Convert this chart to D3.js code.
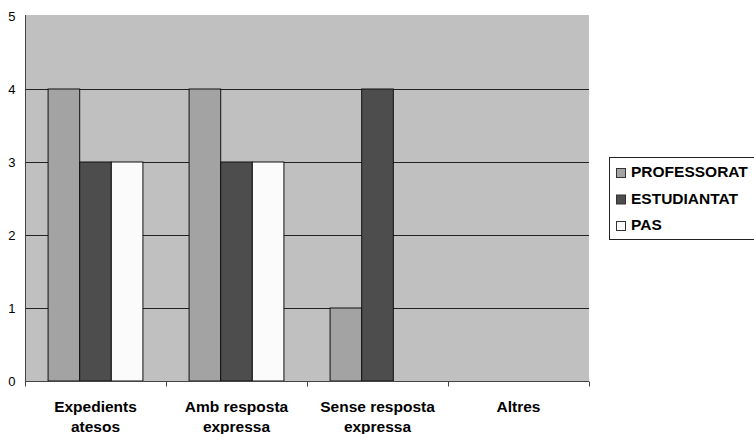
<!DOCTYPE html>
<html><head><meta charset="utf-8">
<script src="https://cdn.jsdelivr.net/npm/d3@7/dist/d3.min.js"></script>
<style>body{margin:0;background:#fff}svg{display:block}</style>
</head><body><svg id="c" width="754" height="434"></svg>
<script>
const categories = ["Expedients\natesos", "Amb resposta\nexpressa", "Sense resposta\nexpressa", "Altres"];
const seriesNames = ["PROFESSORAT", "ESTUDIANTAT", "PAS"];
const professorat = [4, 4, 1, 0];
const estudiantat = [3, 3, 4, 0];
const pas = [3, 3, 0, 0];
const yTicks = [0, 1, 2, 3, 4, 5];
const colors = ["#a3a3a3", "#4d4d4d", "#fbfbfb"];

const series = [professorat, estudiantat, pas];
const svg = d3.select("#c");
const L = 25, R = 589, T = 16, B = 381;
const FONT = "Liberation Sans, Arial, sans-serif";

const x = d3.scaleBand().domain(categories).range([L, R]).paddingInner(0).paddingOuter(0);
const xs = d3.scaleBand().domain(seriesNames).range([0, x.bandwidth()]).paddingInner(0).paddingOuter(0.73);
const y = d3.scaleLinear().domain([0, 5]).range([B, T]);

svg.append("rect").attr("x", L).attr("y", T - 1).attr("width", R - L).attr("height", B - T + 1).attr("fill", "#c0c0c0");

// gridlines
svg.append("g").selectAll("line").data(yTicks.filter(d => d > 0 && d < 5)).join("line")
  .attr("x1", L).attr("x2", R).attr("y1", d => Math.round(y(d)) + 0.5).attr("y2", d => Math.round(y(d)) + 0.5)
  .attr("stroke", "#222").attr("stroke-width", 1);

// bars
const g = svg.append("g");
categories.forEach((c, i) => {
  seriesNames.forEach((s, j) => {
    const v = series[j][i];
    if (v <= 0) return;
    g.append("rect")
      .attr("x", x(c) + xs(s)).attr("width", xs.bandwidth())
      .attr("y", y(v)).attr("height", y(0) - y(v))
      .attr("fill", colors[j]).attr("stroke", "#111").attr("stroke-width", 1);
  });
});

// y axis
const yAxis = d3.axisLeft(y).tickValues(yTicks).tickSize(0).tickPadding(10).tickFormat(d3.format("d"));
const ya = svg.append("g").attr("transform", `translate(${L + 0.5},0)`).call(yAxis);
ya.select(".domain").attr("stroke", "#444").attr("d", `M0,${T - 1}V${B}`);
ya.selectAll("text").attr("font-family", FONT).attr("font-size", 13).attr("fill", "#000");

// x axis
const xa = svg.append("g").attr("transform", `translate(0,${B + 0.5})`);
xa.append("line").attr("x1", L).attr("x2", R).attr("stroke", "#444");
const tickPos = categories.map(c => x(c)).concat([R]);
xa.selectAll("line.t").data(tickPos).join("line").attr("class", "t")
  .attr("x1", d => Math.round(d) + 0.5).attr("x2", d => Math.round(d) + 0.5).attr("y1", 0).attr("y2", 5).attr("stroke", "#444");
categories.forEach(c => {
  const t = xa.append("text").attr("text-anchor", "middle")
    .attr("font-family", FONT).attr("font-size", 15.5).attr("font-weight", "bold")
    .attr("fill", "#000");
  c.split("\n").forEach((ln, k) => {
    t.append("tspan").attr("x", x(c) + x.bandwidth() / 2).attr("y", 30 + k * 20).text(ln);
  });
});

// legend
const lg = svg.append("g");
lg.append("rect").attr("x", 609.5).attr("y", 157.5).attr("width", 150).attr("height", 82).attr("fill", "#fff").attr("stroke", "#222");
seriesNames.forEach((s, j) => {
  const base = 177 + j * 26.5;
  lg.append("rect").attr("x", 616.5).attr("y", base - 8.5).attr("width", 9).attr("height", 9).attr("fill", colors[j]).attr("stroke", "#333");
  lg.append("text").attr("x", 631).attr("y", base).attr("font-family", FONT)
    .attr("font-size", 15.5).attr("font-weight", "bold").attr("fill", "#000").text(s);
});
</script></body></html>
